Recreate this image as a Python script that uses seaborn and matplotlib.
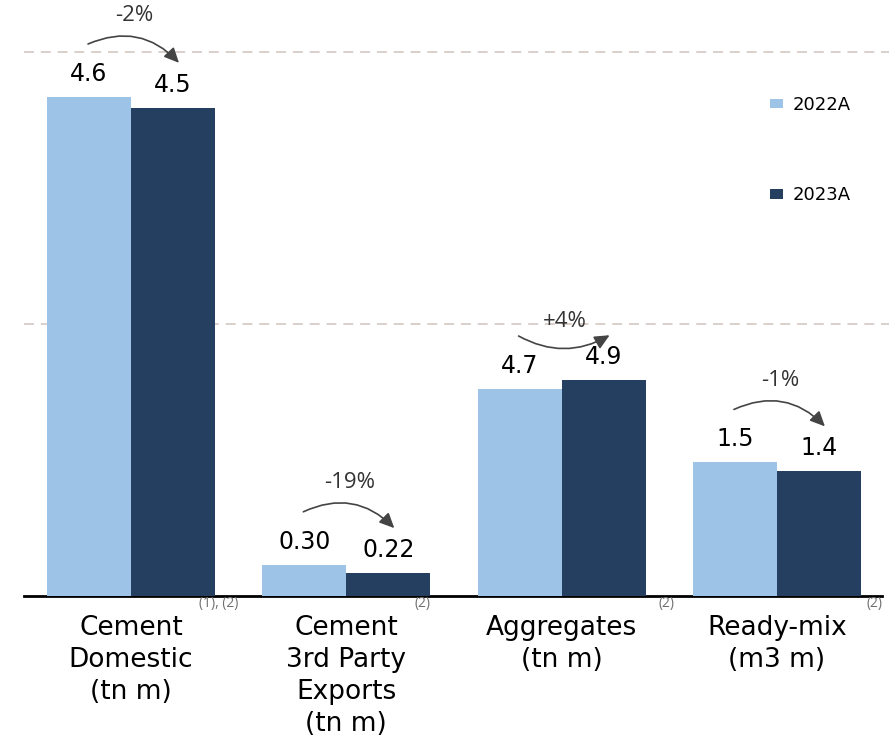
import matplotlib
matplotlib.use("Agg")
import matplotlib.pyplot as plt
import seaborn as sns
import pandas as pd

# ---- data -------------------------------------------------------------
categories = ["Cement\nDomestic\n(tn m)",
              "Cement\n3rd Party\nExports\n(tn m)",
              "Aggregates\n(tn m)",
              "Ready-mix\n(m3 m)"]
footnotes = ["(1), (2)", "(2)", "(2)", "(2)"]
years = ["2022A", "2023A"]
values_2022 = [4.6, 0.30, 4.7, 1.5]
values_2023 = [4.5, 0.22, 4.9, 1.4]
labels_2022 = ["4.6", "0.30", "4.7", "1.5"]
labels_2023 = ["4.5", "0.22", "4.9", "1.4"]
changes = ["-2%", "-19%", "+4%", "-1%"]
# every category is drawn against its own vertical scale
scale_tops = [5.31, 5.54, 13.08, 6.47]

colors = {"2022A": "#9DC3E6", "2023A": "#243F60"}

df = pd.DataFrame({
    "category": categories * 2,
    "year": [years[0]] * 4 + [years[1]] * 4,
    "value": values_2022 + values_2023,
})

sns.set_style("white")
plt.rcParams["font.family"] = ["DejaVu Sans"]

W, H = 889, 743
fig = plt.figure(figsize=(W / 100, H / 100), dpi=100)
left_px, right_px, base_px, top_px = 24, 882, 596, 20
ax = fig.add_axes([left_px / W, (H - base_px) / H,
                   (right_px - left_px) / W, (base_px - top_px) / H])
ax.set_ylim(0, 1)
xlim = (-0.497, 3.488)

# dashed reference lines
for yy in [(base_px - 52) / (base_px - top_px), (base_px - 324) / (base_px - top_px)]:
    ax.axhline(yy, xmin=0, xmax=(W - left_px) / (right_px - left_px),
               color="#CFC4BD", lw=1.1, dashes=(6.5, 4.5), clip_on=False, zorder=0)

twins = []
for i, cat in enumerate(categories):
    tax = ax.twinx()
    sub = df[df["category"] == cat]
    sns.barplot(data=sub, x="category", y="value", hue="year",
                order=categories, hue_order=years, palette=colors,
                saturation=1, width=0.78, errorbar=None, linewidth=0,
                ax=tax, legend=(i == 0))
    tax.set_ylim(0, scale_tops[i])
    tax.set_yticks([])
    tax.set_ylabel("")
    tax.set_xlabel("")
    for s in tax.spines.values():
        s.set_visible(False)
    tax.bar_label(tax.containers[0], labels=[labels_2022[i]], padding=8,
                  fontsize=17, color="black")
    tax.bar_label(tax.containers[1], labels=[labels_2023[i]], padding=8,
                  fontsize=17, color="black")
    twins.append(tax)

handles, leg_labels = twins[0].get_legend_handles_labels()
if twins[0].get_legend() is not None:
    twins[0].get_legend().remove()

# axis styling on the base axes
ax.set_xlim(*xlim)
ax.set_xticks(range(len(categories)))
ax.set_xticklabels(categories, fontsize=19, linespacing=1.3, color="black")
ax.tick_params(axis="x", length=0, pad=14)
ax.set_yticks([])
ax.set_xlabel("")
for side in ["left", "right", "top"]:
    ax.spines[side].set_visible(False)
ax.spines["bottom"].set_color("black")
ax.spines["bottom"].set_linewidth(2)

# footnote markers after the first line of each category name
renderer = fig.canvas.get_renderer()
for i, cat in enumerate(categories):
    first = cat.split("\n")[0]
    probe = fig.text(0, 0, first, fontsize=19)
    w = probe.get_window_extent(renderer).width
    probe.remove()
    cx = ax.transData.transform((i, 0))[0]
    fig.text((cx + w * 0.6 + 6) / W, (H - 604) / H, footnotes[i],
             fontsize=10, color="#707070", family=["Open Sans"],
             ha="left", va="center")

# change arrows and percentages
top_ax = twins[-1]
for i, tax in enumerate(twins):
    x0, y0 = tax.transData.transform((i - 0.195, values_2022[i]))
    x1, y1 = tax.transData.transform((i + 0.195, values_2023[i]))
    start = (x0 - 1, y0 + 53)
    head = (x1 + 6, y1 + 45)
    arc_up = values_2023[i] < values_2022[i]
    rad = -0.35 if arc_up else 0.28
    top_ax.annotate("", xy=head, xycoords="figure pixels",
                    xytext=start, textcoords="figure pixels",
                    arrowprops=dict(arrowstyle="-|>,head_length=0.6,head_width=0.28",
                                    connectionstyle=f"arc3,rad={rad}",
                                    color="#444444", lw=1.2,
                                    shrinkA=0, shrinkB=0, mutation_scale=15))
    cx = ax.transData.transform((i, 0))[0]
    ty = max(start[1], head[1]) + (29 if arc_up else 14)
    top_ax.annotate(changes[i], xy=(cx + 3, ty), xycoords="figure pixels",
                    ha="center", va="center", fontsize=16,
                    color="#333333", family=["Open Sans"])

leg = top_ax.legend(handles, leg_labels, loc="upper left",
                    bbox_to_anchor=(770 / W, (H - 96) / H),
                    bbox_transform=fig.transFigure, frameon=False,
                    fontsize=13, handlelength=0.72, handleheight=0.46,
                    handletextpad=0.55, labelspacing=4.0,
                    borderpad=0, borderaxespad=0)
for t in leg.get_texts():
    t.set_color("black")

fig.savefig("out.png", dpi=100)
